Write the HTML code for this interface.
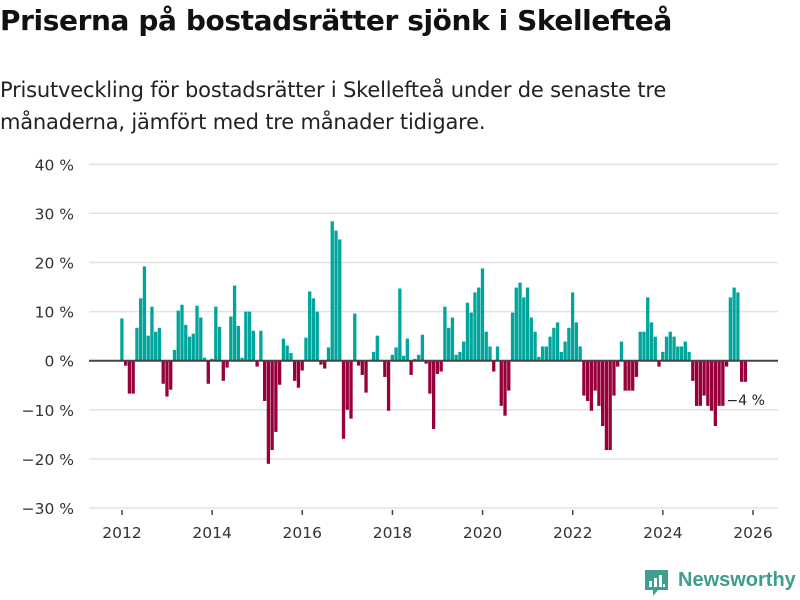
<!DOCTYPE html>
<html><head><meta charset="utf-8">
<style>
body{margin:0;background:#fff;width:800px;height:600px;overflow:hidden;font-family:"DejaVu Sans","Liberation Sans",sans-serif;}
h1{position:absolute;left:0;top:4px;margin:0;font-size:28px;font-weight:bold;color:#111;letter-spacing:-0.4px;white-space:nowrap;}
.sub{position:absolute;left:0;top:74px;margin:0;font-size:21px;line-height:32px;color:#222;white-space:nowrap;letter-spacing:-0.2px;}
svg{position:absolute;left:0;top:0;}
</style></head><body>
<h1>Priserna på bostadsrätter sjönk i Skellefteå</h1>
<p class="sub">Prisutveckling för bostadsrätter i Skellefteå under de senaste tre<br>månaderna, jämfört med tre månader tidigare.</p>
<svg id="chart" width="800" height="600"></svg>
<div style="position:absolute;left:645px;top:568px;">
<svg width="24" height="30" viewBox="0 0 24 30" style="position:absolute;left:0;top:0"><path d="M0 2h23v20H13l-5 6v-6H0z" fill="#3d9e8f"/><rect x="4" y="13" width="3" height="6" fill="#fff"/><rect x="9" y="10" width="3" height="9" fill="#fff"/><rect x="14" y="7" width="3" height="12" fill="#fff"/><rect x="18" y="16" width="2" height="3" fill="#fff"/></svg>
<span style="position:absolute;left:33px;top:1px;font-family:'Liberation Sans',sans-serif;font-size:20px;font-weight:bold;color:#3d9e8f;white-space:nowrap">Newsworthy</span>
</div>
<script>
const values = [
8.6,-1.0,-6.7,-6.7,6.7,12.7,19.2,5.1,11.0,5.9,6.7,-4.7,
-7.3,-5.9,2.2,10.2,11.4,7.3,4.9,5.5,11.2,8.8,0.6,-4.7,
0.4,11.0,6.9,-4.1,-1.4,9.0,15.3,7.1,0.6,10.0,10.0,6.1,
-1.2,6.1,-8.2,-21.0,-18.2,-14.5,-4.9,4.5,3.1,1.6,-4.1,
-5.5,-2.0,4.7,14.1,12.7,10.0,-0.8,-1.6,2.7,28.4,26.5,24.7,
-15.9,-10.0,-11.8,9.6,-1.0,-2.9,-6.5,0.2,1.8,5.1,0.2,-3.3,
-10.2,1.2,2.7,14.7,1.0,4.5,-2.9,0.4,1.2,5.3,-0.6,-6.7,
-13.9,-2.7,-2.2,11.0,6.7,8.8,1.2,1.8,3.9,11.8,9.8,13.9,
14.9,18.8,5.9,2.9,-2.2,2.9,-9.2,-11.2,-6.1,9.8,14.9,15.9,
12.9,14.9,8.8,5.9,0.8,2.9,2.9,4.9,6.7,7.8,1.8,
3.9,6.7,13.9,7.8,2.9,-7.1,-8.2,-10.2,-6.1,-9.2,-13.3,-18.2,
-18.2,-7.1,-1.2,3.9,-6.1,-6.1,-6.1,-3.3,5.9,5.9,12.9,7.8,
4.9,-1.2,1.8,4.9,5.9,4.9,2.9,2.9,3.9,1.8,-4.1,-9.2,
-9.2,-7.1,-9.2,-10.2,-13.3,-9.2,-9.2,-1.2,12.9,14.9,13.9,-4.3,-4.3
];
const startYear = 2012;
const yTicks = [40,30,20,10,0,-10,-20,-30];
const yTickLabels = ["40 %","30 %","20 %","10 %","0 %","−10 %","−20 %","−30 %"];
const xTickYears = [2012,2014,2016,2018,2020,2022,2024,2026];
const lastLabel = "−4 %";

const svg = document.getElementById('chart');
const NS = 'http://www.w3.org/2000/svg';
function y(v){ return 360.7 - v*4.91; }
function x(i){ return 122 + i*3.756; }
function xYear(yr){ return x((yr-startYear)*12); }
function mk(tag, attrs){ const e=document.createElementNS(NS,tag); for(const k in attrs) e.setAttribute(k,attrs[k]); svg.appendChild(e); return e; }

yTicks.forEach((t,k)=>{
  if(t!==0){
    const g = mk('line',{x1:89,x2:778,y1:y(t),y2:y(t),stroke:'#e2e2e2','stroke-width':1.5});
    
    
  }
  const tx = mk('text',{x:74,y:y(t)+6,'text-anchor':'end','font-size':15.5,fill:'#333','font-family':'DejaVu Sans, sans-serif'});
  tx.textContent = yTickLabels[k];
  
  
});
values.forEach((v,i)=>{
  const top = v>=0 ? y(v) : y(0);
  const h = Math.abs(y(v)-y(0));
  const r = mk('rect',{x:x(i)-1.75,y:top,width:3.3,height:h,fill: v>=0 ? '#00a59b' : '#97003a'});
  
  
});
const zl = mk('line',{x1:89,x2:778,y1:y(0),y2:y(0),stroke:'#444','stroke-width':2});


xTickYears.forEach(yr=>{
  const tk = mk('line',{x1:xYear(yr),x2:xYear(yr),y1:510,y2:515,stroke:'#444','stroke-width':1.5});
  
  
  const tl = mk('text',{x:xYear(yr),y:538,'text-anchor':'middle','font-size':15.5,fill:'#333','font-family':'DejaVu Sans, sans-serif'});
  tl.textContent = yr;
  
  
});
const li = values.length-1;
const ll = mk('text',{x:x(li)-19,y:y(values[li])+23,'font-size':14,fill:'#222','font-family':'DejaVu Sans, sans-serif'});
ll.textContent = lastLabel;


</script>
</body></html>
